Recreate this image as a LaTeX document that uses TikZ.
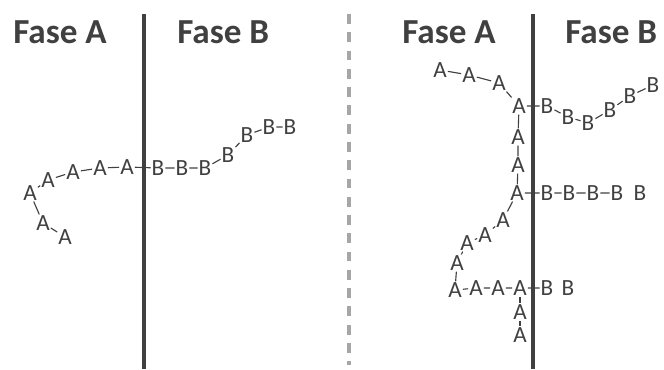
\documentclass[tikz,border=0pt]{standalone}
\usepackage{fontspec}
\setmainfont{Carlito}
\definecolor{ink}{HTML}{404040}
\definecolor{sepgray}{HTML}{A6A6A6}

\begin{document}
\begin{tikzpicture}[x=0.025cm, y=-0.025cm, every node/.style={text=ink},
	fase/.style={font=\fontsize{25}{30}\selectfont\bfseries, anchor=base west, inner sep=0pt},
	mono/.style={font=\fontsize{16.5}{20}\selectfont, inner sep=0.6pt},
	link/.style={ink, line width=0.8pt}]
	\useasboundingbox (0,0) rectangle (664,369);
	% phase boundaries
	\draw[ink, line width=3pt] (144,14) -- (144,369);
	\draw[ink, line width=3pt] (533,14) -- (533,369);
	\draw[sepgray, line width=2.5pt, dash pattern=on 7pt off 6pt] (349,14) -- (349,365);
	\node[fase] (fa1) at (13,43) {Fase A};
	\node[fase] (fb1) at (177,43) {Fase B};
	\node[fase] (fa2) at (402,43) {Fase A};
	\node[fase] (fb2) at (565,43) {Fase B};
	% single chain crossing the interface
	\foreach \n/\x/\y in {1/65/237, 2/43/223, 3/30/193, 4/48/180, 5/73/172, 6/100/168, 7/127/167}
		\node[mono] (la\n) at (\x,\y) {A};
	\foreach \n/\x/\y in {1/158/168, 2/182/168, 3/205/168, 4/228/155, 5/247/135, 6/269/127, 7/290/127}
		\node[mono] (lb\n) at (\x,\y) {B};
	\draw[link] (la1) -- (la2) -- (la3) -- (la4) -- (la5) -- (la6) -- (la7) -- (lb1)
		-- (lb2) -- (lb3) -- (lb4) -- (lb5) -- (lb6) -- (lb7);
	% branched chain with several crossings
	\foreach \n/\x/\y in {1/440/70, 2/469/75, 3/499/83, 4/519/106, 5/518/137, 6/518/165, 7/517/193,
		8/503/220, 9/485/235, 10/467/243, 11/457/263, 12/455/290, 13/476/288, 14/498/288,
		15/520/288, 16/520/312, 17/520/335}
		\node[mono] (ra\n) at (\x,\y) {A};
	\foreach \n/\x/\y in {1/547/106, 2/568/117, 3/588/123, 4/610/110, 5/630/96, 6/653/85,
		7/547/193, 8/569/193, 9/593/193, 10/617/193, 11/640/193, 12/547/288, 13/568/288}
		\node[mono] (rb\n) at (\x,\y) {B};
	\draw[link] (ra1) -- (ra2) -- (ra3) -- (ra4) -- (rb1) -- (rb2) -- (rb3) -- (rb4) -- (rb5) -- (rb6);
	\draw[link] (ra4) -- (ra5) -- (ra6) -- (ra7) -- (rb7) -- (rb8) -- (rb9) -- (rb10);
	\draw[link] (ra7) -- (ra8) -- (ra9) -- (ra10) -- (ra11) -- (ra12) -- (ra13) -- (ra14) -- (ra15) -- (rb12);
	\draw[link] (ra15) -- (ra16) -- (ra17);
\end{tikzpicture}
\end{document}
